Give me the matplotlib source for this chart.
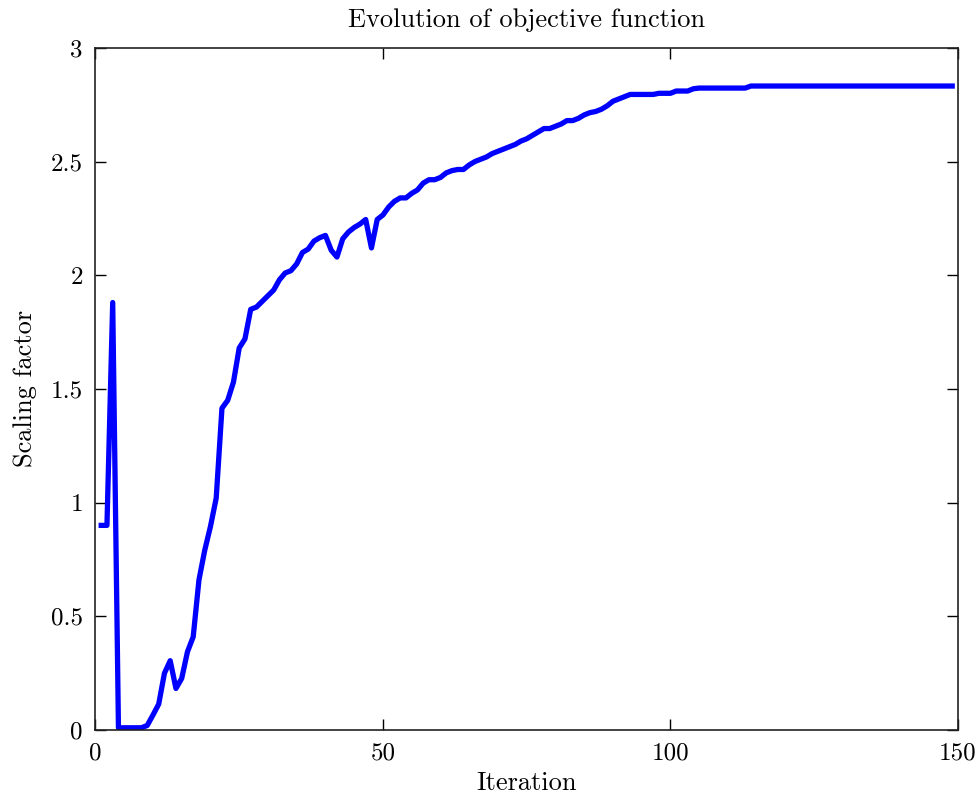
import numpy as np
import matplotlib
matplotlib.use("Agg")
import matplotlib.pyplot as plt
from matplotlib.ticker import FuncFormatter

plt.rcParams["font.family"] = "serif"
plt.rcParams["font.serif"] = ["cmr10"]
plt.rcParams["mathtext.fontset"] = "cm"
plt.rcParams["axes.formatter.use_mathtext"] = True

# scaling factor per iteration
early = [0.90, 0.90, 1.88, 0.01, 0.01, 0.01, 0.01, 0.01, 0.02, 0.066,
         0.114, 0.25, 0.305, 0.183, 0.227, 0.344, 0.41, 0.66, 0.79, 0.895,
         1.02, 1.415, 1.45, 1.53, 1.68, 1.72, 1.85, 1.86, 1.885, 1.91,
         1.935, 1.98, 2.01, 2.02, 2.05, 2.10, 2.115, 2.15, 2.165, 2.175,
         2.11, 2.08, 2.16, 2.19, 2.21, 2.225, 2.245, 2.12, 2.245, 2.265]
middle = [2.30, 2.325, 2.34, 2.34, 2.36, 2.375, 2.405, 2.42, 2.42, 2.43,
          2.45, 2.46, 2.465, 2.465, 2.485, 2.50, 2.51, 2.52, 2.535, 2.545,
          2.555, 2.565, 2.575, 2.59, 2.60, 2.615, 2.63, 2.645, 2.645, 2.655,
          2.665, 2.68, 2.68, 2.69, 2.705, 2.715, 2.72, 2.73, 2.745, 2.765,
          2.775, 2.785, 2.795, 2.795, 2.795, 2.795, 2.795, 2.80, 2.80, 2.80,
          2.81, 2.81, 2.81, 2.82]
late = [2.823] * 9 + [2.832] * 36

scaling = early + middle + late
iterations = np.arange(1, len(scaling) + 1)

fig = plt.figure(figsize=(9.79, 7.97), dpi=100)
ax = fig.add_axes([0.0975, 0.084, 0.881, 0.856])

ax.plot(iterations, scaling, color=(0, 0, 1), linewidth=3.8)

ax.set_xlim(0, 150)
ax.set_ylim(0, 3)
ax.set_xticks([0, 50, 100, 150])
ax.set_yticks([0, 0.5, 1, 1.5, 2, 2.5, 3])
ax.yaxis.set_major_formatter(FuncFormatter(lambda v, p: "%g" % v))
ax.xaxis.set_major_formatter(FuncFormatter(lambda v, p: "%g" % v))
ax.tick_params(direction="in", length=8, width=1, top=True, right=True,
               labelsize=18, pad=9)
for s in ax.spines.values():
    s.set_linewidth(1.2)
    s.set_color("#222222")

ax.set_title("Evolution of objective function", fontsize=19, pad=15)
ax.set_xlabel("Iteration", fontsize=19, labelpad=5)
ax.set_ylabel("Scaling factor", fontsize=19, labelpad=10)

fig.savefig("out.png", dpi=100)
